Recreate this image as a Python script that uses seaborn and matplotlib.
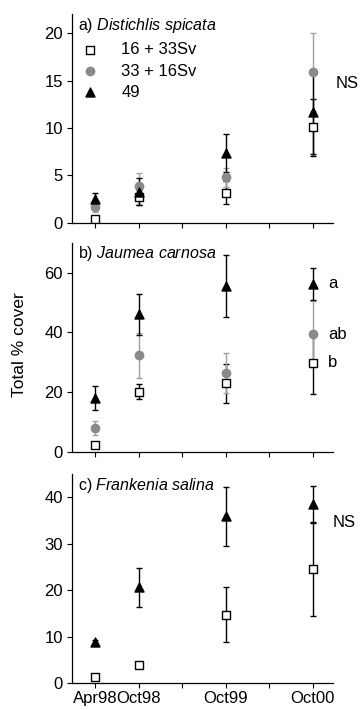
import matplotlib
matplotlib.use("Agg")
import numpy as np
import matplotlib.pyplot as plt
import seaborn as sns

# sampling dates, in months after Apr98
months = [0, 6, 18, 30]
tick_pos = [0, 6, 12, 18, 24, 30]
tick_labels = ["Apr98", "Oct98", "", "Oct99", "", "Oct00"]
treatments = ["16 + 33Sv", "33 + 16Sv", "49"]

# a) Distichlis spicata
a_sq = [0.4, 2.7, 3.2, 10.1]
a_sq_se = [0.1, 0.8, 1.2, 3.0]
a_ci = [1.7, 3.9, 4.8, 15.9]
a_ci_se = [0.5, 1.4, 1.0, 4.1]
a_tr = [2.5, 3.3, 7.4, 11.7]
a_tr_se = [0.7, 1.4, 2.0, 4.4]

# b) Jaumea carnosa
b_sq = [2.2, 20.1, 22.9, 29.8]
b_sq_se = [0.5, 2.5, 6.5, 10.4]
b_ci = [7.8, 32.3, 26.4, 39.4]
b_ci_se = [2.4, 7.5, 6.6, 11.0]
b_tr = [17.9, 46.0, 55.4, 56.3]
b_tr_se = [4.1, 7.0, 10.4, 5.4]

# c) Frankenia salina (no 33 + 16Sv data)
c_sq = [1.3, 3.8, 14.7, 24.5]
c_sq_se = [0.3, 0.6, 5.9, 10.0]
c_ci = [np.nan, np.nan, np.nan, np.nan]
c_ci_se = [np.nan, np.nan, np.nan, np.nan]
c_tr = [8.8, 20.6, 35.9, 38.6]
c_tr_se = [0.5, 4.2, 6.4, 3.9]

sns.set_style("ticks")
plt.rcParams["font.family"] = ["Liberation Sans", "DejaVu Sans"]
plt.rcParams["mathtext.fontset"] = "custom"
plt.rcParams["mathtext.it"] = "Liberation Sans:italic"
plt.rcParams["mathtext.rm"] = "Liberation Sans"
for k in ["text.color", "axes.labelcolor", "xtick.color", "ytick.color"]:
    plt.rcParams[k] = "black"

panels = [
    (r"a) $\it{Distichlis\ spicata}$", (a_sq, a_sq_se), (a_ci, a_ci_se), (a_tr, a_tr_se), 22, [0, 5, 10, 15, 20]),
    (r"b) $\it{Jaumea\ carnosa}$", (b_sq, b_sq_se), (b_ci, b_ci_se), (b_tr, b_tr_se), 70, [0, 20, 40, 60]),
    (r"c) $\it{Frankenia\ salina}$", (c_sq, c_sq_se), (c_ci, c_ci_se), (c_tr, c_tr_se), 45, [0, 10, 20, 30, 40]),
]
bottoms = [0.686, 0.364, 0.038]

styles = [
    dict(marker="s", color="white", edgecolor="black", ecolor="black", s=32),
    dict(marker="o", color="#8a8a8a", edgecolor="#8a8a8a", ecolor="#a0a0a0", s=36),
    dict(marker="^", color="black", edgecolor="black", ecolor="black", s=42),
]

fig = plt.figure(figsize=(3.6, 7.1), dpi=100)
axes = []
for i, (title, sq, ci, tr, ymax, yticks) in enumerate(panels):
    ax = fig.add_axes([0.2, bottoms[i], 0.725, 0.294])
    axes.append(ax)
    for (vals, se), st in zip([sq, ci, tr], styles):
        ax.errorbar(months, vals, yerr=se, fmt="none", ecolor=st["ecolor"],
                    elinewidth=1, capsize=2, capthick=1, zorder=2)
    for (vals, se), st, lab in zip([sq, ci, tr], styles, treatments):
        sns.scatterplot(x=months, y=vals, marker=st["marker"], color=st["color"],
                        edgecolor=st["edgecolor"], linewidth=1, s=st["s"],
                        ax=ax, zorder=3, label=lab if i == 0 else None, legend=False)
    ax.set_xlim(-3.2, 32.8)
    ax.set_ylim(0, ymax)
    ax.set_yticks(yticks)
    ax.set_xticks(tick_pos)
    ax.set_xticklabels(tick_labels if i == 2 else [""] * len(tick_pos))
    ax.tick_params(labelsize=12, length=3.5, width=0.8, pad=2)
    ax.tick_params(axis="y", pad=3)
    for sp in ["left", "bottom"]:
        ax.spines[sp].set_linewidth(0.9)
        ax.spines[sp].set_color("black")
    sns.despine(ax=ax)
    ax.text(0.023, 0.948, title, transform=ax.transAxes, fontsize=11.5,
            ha="left", va="center")

# legend in panel a
handles, labels = axes[0].get_legend_handles_labels()
axes[0].legend(handles, labels, loc="upper left", bbox_to_anchor=(0.03, 0.865),
               frameon=False, fontsize=12, handlelength=1.2, handletextpad=1.3,
               labelspacing=0.37, borderpad=0, borderaxespad=0)

# significance letters
axes[0].text(33.1, 14.7, "NS", fontsize=12, ha="left", va="center")
axes[1].text(32.1, 56.3, "a", fontsize=12, ha="left", va="center")
axes[1].text(32.1, 39.4, "ab", fontsize=12, ha="left", va="center")
axes[1].text(32.1, 29.8, "b", fontsize=12, ha="left", va="center")
axes[2].text(32.8, 34.6, "NS", fontsize=12, ha="left", va="center")

fig.text(0.055, 0.515, "Total % cover", rotation=90, fontsize=12.5,
         ha="center", va="center")

fig.savefig("out.png", dpi=100)
plt.close(fig)
